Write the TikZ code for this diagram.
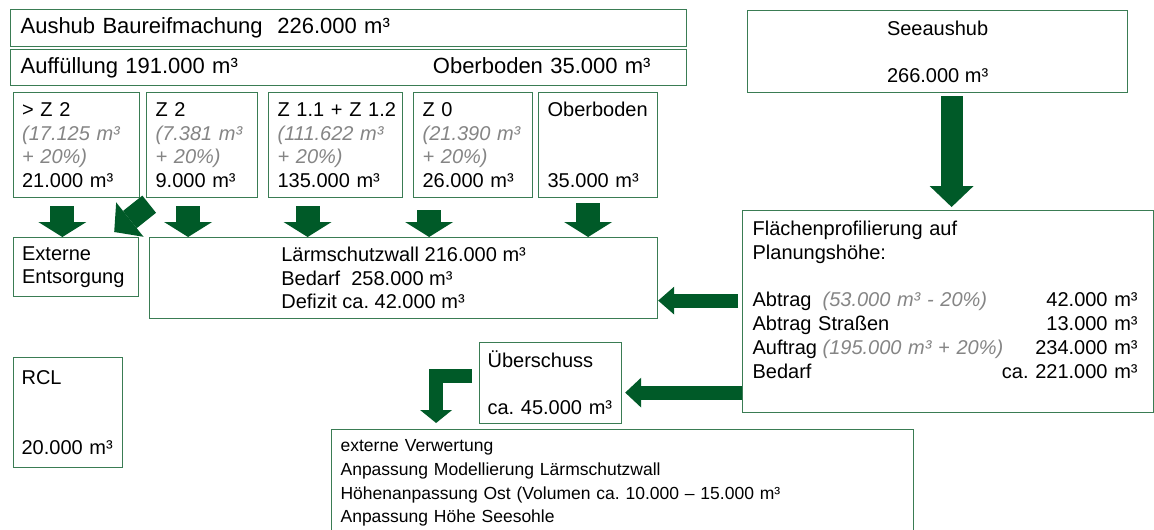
\documentclass[tikz,border=0pt]{standalone}
\usepackage{fontspec}
\setmainfont{Liberation Sans}
\frenchspacing
\usetikzlibrary{arrows.meta}
\definecolor{boxgreen}{RGB}{58,124,84}
\definecolor{arrowgreen}{RGB}{0,90,40}
\newcommand{\hint}[1]{{\color{black!48}\itshape #1}}
\tikzset{
  box/.style={draw=boxgreen, line width=1.2pt, anchor=north west, align=left,
    inner xsep=9pt, inner ysep=0pt, font=\fontsize{20}{23.5}\selectfont},
  flow/.style n args={3}{draw=arrowgreen, line width=#1,
    -{Triangle[width=#2, length=#3, line width=0pt]}},
  flowdown/.style={flow={24pt}{48pt}{15pt}}
}
\begin{document}
\begin{tikzpicture}[x=1pt, y=-1pt]
        \path[use as bounding box, fill=white] (0,0) rectangle (1154,530);

        % Define the positions of the nodes
        \node[box, font=\fontsize{22}{26}\selectfont, inner xsep=10pt, text width=656pt, minimum height=37pt] (aushub) at (10,9) {Aushub Baureifmachung\ \ 226.000 m³};
        \node[box, font=\fontsize{22}{26}\selectfont, inner xsep=10pt, text width=656pt, minimum height=36pt] (auffuell) at (10,49) {Auffüllung 191.000 m³\hfill Oberboden 35.000 m³\hspace*{26pt}\mbox{}};

        \node[box, text width=108.5pt, minimum height=105pt] (zA) at (12.5,92) {> Z 2\\ \hint{(17.125 m³}\\ \hint{+ 20\%)}\\ 21.000 m³};
        \node[box, text width=93pt, minimum height=105pt] (zB) at (146,92) {Z 2\\ \hint{(7.381 m³}\\ \hint{+ 20\%)}\\ 9.000 m³};
        \node[box, text width=116pt, minimum height=105pt] (zC) at (268,92) {\mbox{Z 1.1 + Z 1.2}\\ \hint{(111.622 m³}\\ \hint{+ 20\%)}\\ 135.000 m³};
        \node[box, text width=101pt, minimum height=105pt] (zD) at (413,92) {Z 0\\ \hint{(21.390 m³}\\ \hint{+ 20\%)}\\ 26.000 m³};
        \node[box, text width=101pt, minimum height=105pt] (zE) at (538,92) {Oberboden\\ ~\\ ~\\ 35.000 m³};

        \node[box, text width=107.5pt, minimum height=59pt] (extern) at (12.5,237) {Externe\\ Entsorgung};
        \node[box, minimum width=508pt, minimum height=81pt] (wall) at (149,237) {Lärmschutzwall 216.000 m³\\ Bedarf\ \ 258.000 m³\\ Defizit ca. 42.000 m³};

        \node[box, align=center, minimum width=380pt, minimum height=82pt] (see) at (747,10) {Seeaushub\\ ~\\ 266.000 m³};
        \node[box, font=\fontsize{20}{23.8}\selectfont, inner xsep=10pt, text width=391pt, minimum height=202pt] (profil) at (742,210) {Flächenprofilierung auf\\ Planungshöhe:\\ ~\\
          \makebox[70pt][l]{Abtrag}\hint{(53.000 m³ - 20\%)}\hfill 42.000 m³\hspace*{6pt}\mbox{}\\
          Abtrag Straßen\hfill 13.000 m³\hspace*{6pt}\mbox{}\\
          \makebox[70pt][l]{Auftrag}\hint{(195.000 m³ + 20\%)}\hfill 234.000 m³\hspace*{6pt}\mbox{}\\
          Bedarf\hfill ca. 221.000 m³\hspace*{6pt}\mbox{}\\ ~};

        \node[box, inner xsep=8pt, text width=126pt, minimum height=81pt] (ueber) at (479,342) {Überschuss\\ ~\\ ca. 45.000 m³};
        \node[box, inner xsep=8pt, text width=93pt, minimum height=110pt] (rcl) at (13,357) {RCL\\ ~\\ ~\\ 20.000 m³};
        \node[box, font=\fontsize{17.5}{23.7}\selectfont, text width=564pt, minimum height=107pt] (verwert) at (331,429) {externe Verwertung\\ Anpassung Modellierung Lärmschutzwall\\ Höhenanpassung Ost (Volumen ca. 10.000 – 15.000 m³\\ Anpassung Höhe Seesohle};

        % Draw the arrows
        \draw[flowdown] ([xshift=-14pt,yshift=-8pt]zA.south) -- ([xshift=-14pt]zA.south |- extern.north);
        \draw[flow={22pt}{44pt}{20pt}] ([xshift=9pt,yshift=-6pt]zA.south east) -- ([xshift=-25pt,yshift=5pt]extern.north east);
        \foreach \src/\dx/\dy in {zB/-14/-8, zC/-28/-8, zD/-44/-12, zE/-10/-5}
          \draw[flowdown] ([xshift=\dx pt,yshift=\dy pt]\src.south) -- ([xshift=\dx pt]\src.south |- wall.north);

        \draw[flow={22pt}{44pt}{21pt}] ([xshift=14pt,yshift=-3pt]see.south) -- ([xshift=14pt,yshift=3pt]see.south |- profil.north);
        \draw[flow={14pt}{28pt}{16pt}] ([xshift=-4pt,yshift=11pt]profil.west) -- ([yshift=11pt]profil.west -| wall.east);
        \draw[flow={14pt}{30pt}{16pt}] ([yshift=-81pt]profil.west) -- ([xshift=3pt,yshift=-81pt]profil.west -| ueber.east);
        \draw[flow={14pt}{32pt}{13pt}] ([xshift=-7pt,yshift=7.5pt]ueber.west) -| ([xshift=-186.5pt,yshift=6pt]verwert.north);
\end{tikzpicture}
\end{document}
